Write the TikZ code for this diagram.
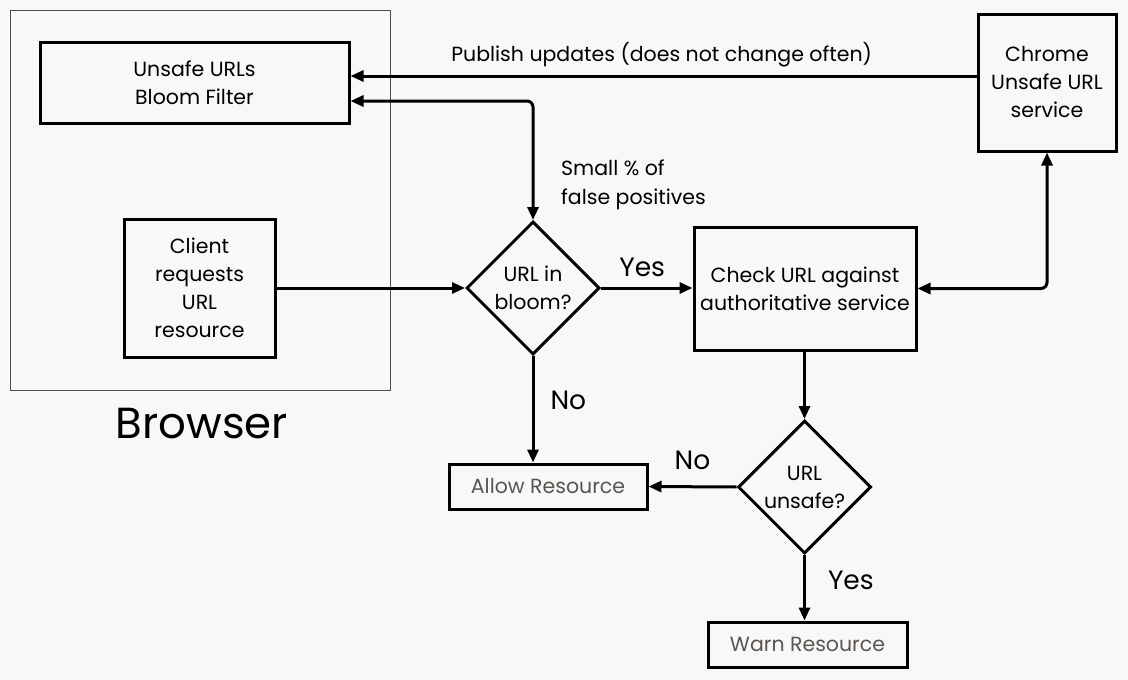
\documentclass[tikz,border=0pt]{standalone}
\usepackage{fontspec}
\setmainfont{Poppins}
\usetikzlibrary{arrows.meta,shapes.geometric}
\definecolor{bg}{HTML}{F8F8F8}
\definecolor{txtgray}{HTML}{5A5550}
\tikzset{
  box/.style={draw=black,line width=3pt,align=center,font=\fontsize{20.5}{28}\selectfont,inner sep=0pt},
  dia/.style={draw=black,line width=3pt,diamond,align=center,font=\fontsize{20.5}{28}\selectfont,minimum width=133pt,minimum height=133pt,inner sep=0pt},
  conn/.style={line width=3pt,-{Triangle[length=13pt,width=11pt]}},
  dconn/.style={line width=3pt,{Triangle[length=13pt,width=11pt]}-{Triangle[length=13pt,width=11pt]},rounded corners=6pt},
  lbl/.style={font=\fontsize{20.5}{29}\selectfont,align=left,inner sep=0pt},
  biglbl/.style={font=\fontsize{26.5}{30}\selectfont,inner sep=0pt},
}
\begin{document}
\begin{tikzpicture}[x=1pt,y=-1pt]
\fill[bg] (0,0) rectangle (1128,680);
\useasboundingbox (0,0) rectangle (1128,680);
% browser frame
\node[draw=black!70,line width=1pt,minimum width=380pt,minimum height=380pt,inner sep=0pt] (browser) at (200,200) {};
\node[font=\fontsize{43.5}{50}\selectfont,inner sep=0pt] (browserlbl) at (202,424) {Browser};
% nodes
\node[box,minimum width=309pt,minimum height=81pt] (bloom) at (194.5,82.5) {Unsafe URLs\\Bloom Filter};
\node[box,minimum width=138pt,minimum height=137pt] (chrome) at (1047,82.5) {Chrome\\Unsafe URL\\service};
\node[box,minimum width=151pt,minimum height=138pt] (client) at (199.5,288) {Client\\requests\\URL\\resource};
\node[dia] (d1) at (533,288) {URL in\\bloom?};
\node[box,minimum width=222pt,minimum height=123pt] (check) at (805,288.5) {Check URL against\\authoritative service};
\node[dia] (d2) at (804.5,487) {URL\\unsafe?};
\node[box,minimum width=198pt,minimum height=45pt,text=txtgray] (allow) at (548,486.5) {Allow Resource};
\node[box,minimum width=199pt,minimum height=45pt,text=txtgray] (warn) at (807.5,644.5) {Warn Resource};
% connectors
\draw[conn] (chrome.west |- 0,76) -- (bloom.east |- 0,76) node[pos=0.503,above=7pt,lbl] (pub) {Publish updates (does not change often)};
\draw[dconn] (bloom.east |- 0,101) -| (d1.north);
\node[lbl,anchor=north west] (smallpct) at (561,160) {Small \% of\\false positives};
\draw[conn] (client.east |- d1.west) -- (d1.west);
\draw[conn] (d1.east) -- (check.west |- d1.east) node[pos=0.45,above=10pt,biglbl] (yes1) {Yes};
\draw[dconn] (check.east) -| (chrome.south);
\draw[conn] (d1.south) -- (allow.north -| d1.south) node[pos=0.42,right=16pt,biglbl] (no1) {No};
\draw[conn] (check.south -| d2.north) -- (d2.north);
\draw[conn] (d2.west) -- (allow.east) node[pos=0.5,above=16pt,biglbl] (no2) {No};
\draw[conn] (d2.south) -- (warn.north -| d2.south) node[pos=0.38,right=22pt,biglbl] (yes2) {Yes};
\end{tikzpicture}
\end{document}
